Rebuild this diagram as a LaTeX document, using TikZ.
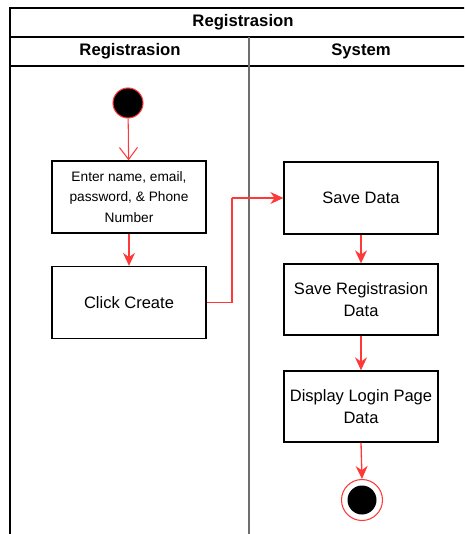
\documentclass[tikz,border=0pt]{standalone}
\usepackage{fontspec}
\setmainfont{Liberation Sans}
\usepackage{tikz}
\usetikzlibrary{arrows.meta,positioning}
\definecolor{flowred}{RGB}{255,56,56}
\definecolor{lanegray}{RGB}{110,110,110}
\tikzset{
  actbox/.style={draw=black,line width=0.75pt,minimum width=154*0.02cm,minimum height=72*0.02cm,
    align=center,inner sep=2pt,font=\fontsize{9.4}{12.5}\selectfont,fill=white},
  actsmall/.style={actbox,font=\fontsize{7.8}{11.6}\selectfont},
  startdot/.style={circle,draw=flowred,fill=black,minimum size=30*0.02cm,inner sep=0pt,line width=0.6pt},
  enddot/.style={circle,draw=flowred,fill=white,minimum size=41*0.02cm,inner sep=0pt,line width=0.6pt},
  flow/.style={-{Stealth[length=2.6mm,width=2.4mm]},line width=0.75pt,draw=flowred},
  openflow/.style={-{Straight Barb[length=2.4mm,width=3.6mm]},line width=0.6pt,draw=flowred},
  headtext/.style={font=\fontsize{9.5}{11}\selectfont\bfseries}
}
\begin{document}
\begin{tikzpicture}[x=0.02cm,y=-0.02cm]
  \useasboundingbox (0,0) rectangle (464,534);
  \clip (0,0) rectangle (464,534);
  % swimlane frame
  \draw[line width=0.9pt] (10,534) -- (10,8) -- (470,8);
  \draw[line width=0.9pt] (10,37) -- (470,37);
  \draw[line width=0.9pt] (10,66) -- (470,66);
  \draw[line width=0.9pt,draw=lanegray] (249,37) -- (249,534);
  \node[headtext] (pool) at (243,22.5) {Registrasion};
  \node[headtext] (laneA) at (130,51.5) {Registrasion};
  \node[headtext] (laneB) at (361,51.5) {System};
  % activities
  \node[startdot] (start) at (128,103) {};
  \node[actsmall] (enter) at (129,197) {Enter name, email,\\password, \& Phone\\Number};
  \node[actbox] (click) at (129,302.5) {Click Create};
  \node[actbox] (save) at (361,198) {Save Data};
  \node[actbox,minimum height=71*0.02cm] (savereg) at (361,299.5) {Save Registrasion\\Data};
  \node[actbox,minimum height=71*0.02cm] (display) at (361,406.5) {Display Login Page\\Data};
  \node[enddot] (stop) at (362,500) {};
  \node[circle,fill=black,minimum size=29*0.02cm,inner sep=0pt] (stopin) at (362,500) {};
  % flows
  \draw[openflow] (start) -- (enter);
  \draw[flow] (enter) -- (click);
  \draw[flow,-] (click.east) -- (232,302.5) -- (232,198);
  \draw[flow] (232,198) -- (save.west);
  \draw[flow] (save) -- (savereg);
  \draw[flow] (savereg) -- (display);
  \draw[flow] (display.south) -- (stop.north);
\end{tikzpicture}
\end{document}
